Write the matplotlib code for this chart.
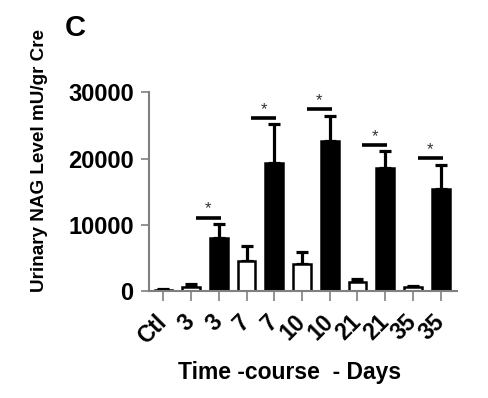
import matplotlib
matplotlib.use("Agg")
import matplotlib.pyplot as plt
import numpy as np

labels = ['Ctl', '3', '3', '7', '7', '10', '10', '21', '21', '35', '35']
means = [150, 600, 8050, 4530, 19280, 4130, 22600, 1410, 18520, 600, 15450]
errs = [150, 400, 2070, 2320, 5940, 1710, 3880, 400, 2620, 200, 3530]
fills = ['white', 'white', 'black', 'white', 'black', 'white', 'black',
         'white', 'black', 'white', 'black']
sig_bars = [2, 4, 6, 8, 10]
sig_heights = [11020, 26060, 27430, 22000, 20030]
yticks = [0, 10000, 20000, 30000]

FONT = ['Liberation Sans', 'DejaVu Sans']
plt.rcParams['font.family'] = FONT
plt.rcParams['font.weight'] = 'bold'

fig = plt.figure(figsize=(4.89, 3.98), dpi=100)
W, H = 489, 398
left, right, bottom, top = 149, 457, 291, 92.3
ax = fig.add_axes([left / W, 1 - bottom / H, (right - left) / W, (bottom - top) / H])

x = np.arange(len(labels))
ax.bar(x, means, width=0.64, color=fills, edgecolor='black', linewidth=1.8, zorder=2)
ax.errorbar(x, means, yerr=[np.zeros(len(errs)), errs], fmt='none', ecolor='black',
            elinewidth=2.3, capsize=4, capthick=2.3, zorder=1)

for b, h in zip(sig_bars, sig_heights):
    x0, x1 = b - 0.83, b + 0.07
    ax.plot([x0, x1], [h, h], color='black', lw=2.6, solid_capstyle='butt',
            clip_on=False, zorder=3)
    ax.annotate('*', xy=((x0 + x1) / 2, h), xytext=(0, 1), textcoords='offset points',
                ha='center', va='bottom', fontsize=12, color='#333333',
                fontweight='normal', annotation_clip=False)

ax.set_ylim(0, 30000)
ax.set_xlim(-0.52, 10.59)
ax.set_yticks(yticks)
ax.set_yticklabels([str(v) for v in yticks], fontsize=17, fontweight='bold')
ax.set_xticks(x)
ax.set_xticklabels(labels, rotation=45, ha='right', va='center',
                   rotation_mode='anchor', fontsize=16.5, fontweight='bold')

for s in ['top', 'right']:
    ax.spines[s].set_visible(False)
for s in ['left', 'bottom']:
    ax.spines[s].set_color('#808080')
    ax.spines[s].set_linewidth(1.5)
ax.tick_params(axis='y', colors='#808080', length=6, width=1.2, pad=5, labelcolor='black')
ax.tick_params(axis='x', colors='#808080', length=7, width=1.2, pad=13, labelcolor='black')

fig.text(40 / W, 1 - 161 / H, 'Urinary NAG Level mU/gr Cre', rotation=90,
         ha='center', va='center', fontsize=13.6, fontweight='bold')
fig.text(290 / W, 1 - 372 / H, 'Time -course  - Days', ha='center', va='center',
         fontsize=16.5, fontweight='bold')
fig.text(65 / W, 1 - 14 / H, 'C', ha='left', va='top', fontsize=21, fontweight='bold')

fig.savefig('out.png', dpi=100)
